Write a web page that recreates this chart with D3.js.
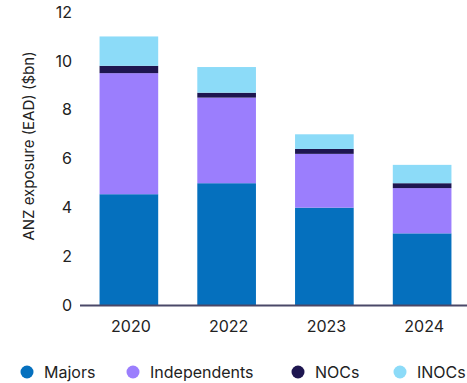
<!DOCTYPE html>
<html><head><meta charset="utf-8">
<script src="https://cdn.jsdelivr.net/npm/d3@7"></script>
<style>body{margin:0;background:#fff;} text{font-family:Inter, "Noto Sans", sans-serif;}</style>
</head><body><svg id="c" width="467" height="383"></svg>
<script>
const years = ["2020","2022","2023","2024"];
const seriesNames = ["Majors","Independents","NOCs","INOCs"];
const majors = [4.55, 5.0, 4.0, 2.95];
const independents = [4.95, 3.5, 2.2, 1.85];
const nocs = [0.3, 0.2, 0.2, 0.2];
const inocs = [1.2, 1.05, 0.6, 0.75];
const yTicks = [0,2,4,6,8,10,12];
const colors = ["#0570BE","#9B7EFD","#1E1650","#8CDBF8"];

const svg = d3.select("#c");
const x = d3.scaleBand().domain(years).range([80,471]).paddingInner(0.4).paddingOuter(0.2);
const y = d3.scaleLinear().domain([0,12]).range([305.5,12]);

const rows = years.map((yr,i)=>({year:yr, Majors:majors[i], Independents:independents[i], NOCs:nocs[i], INOCs:inocs[i]}));
const stack = d3.stack().keys(seriesNames)(rows);

svg.append("g").selectAll("g").data(stack).join("g")
  .attr("fill",(d,i)=>colors[i])
  .selectAll("rect").data(d=>d).join("rect")
  .attr("x",d=>x(d.data.year))
  .attr("width",x.bandwidth())
  .attr("y",d=>y(d[1]))
  .attr("height",d=>y(d[0])-y(d[1]));

const yAxis = d3.axisLeft(y).tickValues(yTicks).tickSize(0).tickPadding(0);
const gy = svg.append("g").attr("transform","translate(72,0)").call(yAxis);
gy.select(".domain").remove();
gy.selectAll("text").attr("font-size",16).attr("fill","#222").style("font-family","Inter, 'Noto Sans', sans-serif");

const xAxis = d3.axisBottom(x).tickSize(0).tickPadding(15);
const gx = svg.append("g").attr("transform","translate(0,305.5)").call(xAxis);
gx.select(".domain").attr("stroke","#4a4868").attr("stroke-width",2).attr("d","M80,0H467");
gx.selectAll("text").attr("font-size",16).attr("fill","#222").attr("dx",2).style("font-family","Inter, 'Noto Sans', sans-serif");

svg.append("text").attr("transform","translate(34,146) rotate(-90)")
  .attr("text-anchor","middle").attr("font-size",15).attr("fill","#222")
  .text("ANZ exposure (EAD) ($bn)");

const legX = [27,133,298,400];
const lg = svg.append("g").selectAll("g").data(seriesNames).join("g")
  .attr("transform",(d,i)=>`translate(${legX[i]},372)`);
lg.append("circle").attr("r",6.5).attr("fill",(d,i)=>colors[i]);
lg.append("text").attr("x",17).attr("dy","0.35em").attr("font-size",16).attr("fill","#222").text(d=>d);
</script></body></html>
